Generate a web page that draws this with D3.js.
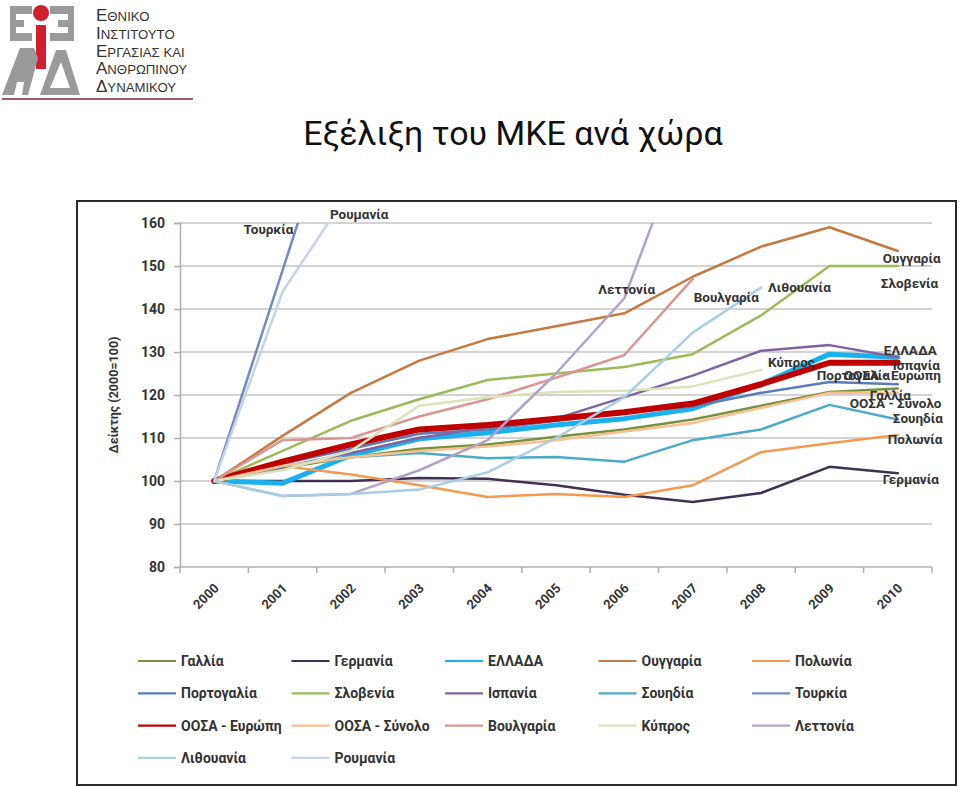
<!DOCTYPE html>
<html><head><meta charset="utf-8">
<script src="https://cdn.jsdelivr.net/npm/d3@7/dist/d3.min.js"></script>
<style>
body{margin:0;background:#fff;}
svg{display:block;}
text{font-family:Roboto,"Noto Sans",sans-serif;}
</style></head>
<body>
<svg id="c" width="960" height="786"></svg>
<script>
// ---------- DATA ----------
const years = ["2000","2001","2002","2003","2004","2005","2006","2007","2008","2009","2010"];
const yTicks = [80,90,100,110,120,130,140,150,160];

const gallia      = [100,103,105.5,107.5,108.5,110.3,112,114.3,117.5,120.7,121.5];
const germania    = [100,100,100,100.7,100.5,99,96.8,95.1,97.2,103.3,101.8];
const ellada      = [100,99.5,106,109.8,111.2,113,114.5,116.8,122.5,129.5,128.8];
const oungaria    = [100,110.5,120.5,128,133,136,139,147.5,154.5,159,153.5];
const polonia     = [100,103.5,101.5,99,96.3,97,96.3,99,106.7,108.8,110.7];
const portogalia  = [100,104,107.5,111,112,114,116,117.3,120.5,123,122.5];
const slovenia    = [100,107,114,119,123.5,125,126.5,129.5,138.5,150,150];
const ispania     = [100,103.2,106.5,110,112.5,114.5,119.5,124.5,130.3,131.6,128.8];
const souidia     = [100,103.5,105.5,106.5,105.3,105.6,104.5,109.5,112,117.7,114.3];
const tourkia     = [100,149,198,null,null,null,null,null,null,null,null];
const oosaEuropi  = [100,104.5,108.5,112,113,114.5,116,118,122.5,127.5,127.5];
const oosaSynolo  = [100,103.5,105.5,107,108,109.5,111.5,113.5,117,120.5,120.5];
const voulgaria   = [100,109.5,110,115,119,124,129.3,147,null,null,null];
const kypros      = [100,102.5,107,117.5,119.5,120.7,121,122,125.8,null,null];
const lettonia    = [100,96.5,97,102.5,109.5,125,142.5,185,null,null,null];
const lithouania  = [100,96.5,97,98,102,110,119.5,134.5,145,null,null];
const roumania    = [100,144,168,null,null,null,null,null,null,null,null];

const seriesNames = ["Γαλλία","Γερμανία","ΕΛΛΑΔΑ","Ουγγαρία","Πολωνία","Πορτογαλία","Σλοβενία","Ισπανία","Σουηδία","Τουρκία","ΟΟΣΑ - Ευρώπη","ΟΟΣΑ - Σύνολο","Βουλγαρία","Κύπρος","Λεττονία","Λιθουανία","Ρουμανία"];
const seriesValues = [gallia,germania,ellada,oungaria,polonia,portogalia,slovenia,ispania,souidia,tourkia,oosaEuropi,oosaSynolo,voulgaria,kypros,lettonia,lithouania,roumania];
const seriesColors = ["#77933C","#403152","#19B2EE","#C47A40","#F39A4E","#5A7DB8","#9BBB59","#8064A2","#4BACC6","#7889C2","#C00000","#FAC090","#D99694","#D7E4BD","#B3A2C7","#A9CDE3","#C4D3E6"];
const seriesWidths = [2.5,2.5,5,2.5,2.5,2.5,2.5,2.5,2.5,2.5,6,2.5,2.5,2.5,2.5,2.5,2.5];

// data labels: [series index, year index, dx, dy]
const labelPlacement = [
 [9,1,-39,-40],[16,2,-21,-8],[14,6,-26,-8],[12,7,1,19],[15,8,7,0],
 [3,10,-15,8],[6,10,-17,18],[13,8,7,-7],[2,10,-14,-6],[7,10,-5,9],
 [10,10,-54,13],[5,10,-81,-8],[0,10,-28,7],[11,10,-48,11],[8,10,-5,-1],
 [4,10,-10,5],[1,10,-15,7]
];

// ---------- DRAW ----------
const svg = d3.select("#c");

// logo
const logo = svg.append("g");
const gray = "#9a9a9a", red = "#d0202e";
[[10,6,22,8],[10,20,14,7],[10,33,22,8],[10,6,6,35],[50,6,24,8],[58,20,16,7],[50,33,24,8],[68,6,6,35]].forEach(r=>{
  logo.append("rect").attr("x",r[0]).attr("y",r[1]).attr("width",r[2]).attr("height",r[3]).attr("fill",gray);
});
logo.append("circle").attr("cx",41).attr("cy",13).attr("r",8).attr("fill",red);
logo.append("rect").attr("x",36).attr("y",25).attr("width",10).attr("height",44).attr("fill",red);
logo.append("path").attr("d","M2,95 L20,48 L34,48 L38,58 L28,95 L22,95 L24,82 L17,82 L14,95 Z").attr("fill",gray);
logo.append("path").attr("d","M40,95 L56,50 L66,50 L80,95 Z M50,88 L70,88 L61,62 Z").attr("fill",gray).attr("fill-rule","evenodd");
logo.append("line").attr("x1",2).attr("x2",193).attr("y1",99).attr("y2",99).attr("stroke","#a8566a").attr("stroke-width",2);
const logoLines = ["ΕΘΝΙΚΟ","ΙΝΣΤΙΤΟΥΤΟ","ΕΡΓΑΣΙΑΣ ΚΑΙ","ΑΝΘΡΩΠΙΝΟΥ","ΔΥΝΑΜΙΚΟΥ"];
logoLines.forEach((s,i)=>{
  const t = logo.append("text").attr("x",96).attr("y",21+i*17.8).attr("fill","#333").style("font-family","'Liberation Sans',Arial,sans-serif");
  t.append("tspan").attr("font-size",17).text(s[0]);
  t.append("tspan").attr("font-size",13.2).text(s.slice(1));
});

// title
svg.append("text").attr("x",513).attr("y",145).attr("text-anchor","middle")
  .attr("font-size",34).attr("fill","#111").text("Εξέλιξη του ΜΚΕ ανά χώρα");

// chart frame
svg.append("rect").attr("x",77).attr("y",201).attr("width",879).attr("height",584)
  .attr("fill","#fff").attr("stroke","#2a2a2a").attr("stroke-width",2);

const L=180, R=932, T=223, B=567;
const x = d3.scalePoint().domain(years).range([L,R]).padding(0.5);
const xb = d3.scaleBand().domain(years).range([L,R]);
const y = d3.scaleLinear().domain([80,160]).range([B,T]);

// gridlines
svg.append("g").selectAll("line").data(yTicks.filter(v=>v>80)).join("line")
  .attr("x1",L).attr("x2",R).attr("y1",d=>y(d)).attr("y2",d=>y(d))
  .attr("stroke","#c4c4c4").attr("stroke-width",1.5);

// y axis
const ya = svg.append("g").attr("transform",`translate(${L},0)`)
  .call(d3.axisLeft(y).tickValues(yTicks).tickSize(6).tickPadding(9));
ya.select(".domain").attr("stroke","#b0b0b0").attr("stroke-width",1.5);
ya.selectAll(".tick line").attr("stroke","#b0b0b0").attr("stroke-width",1.5);
ya.selectAll("text").attr("font-size",14).attr("font-weight","bold").attr("fill","#333")
  .style("font-family","Roboto,sans-serif");

// x axis
const xa = svg.append("g").attr("transform",`translate(0,${B})`)
  .call(d3.axisBottom(x).tickSize(0).tickPadding(0));
xa.select(".domain").remove();
svg.append("line").attr("x1",L).attr("x2",R).attr("y1",B).attr("y2",B).attr("stroke","#b0b0b0").attr("stroke-width",1.5);
svg.append("g").selectAll("line").data(years.concat(["end"])).join("line")
  .attr("x1",(d,i)=> L + i*xb.step()).attr("x2",(d,i)=> L + i*xb.step())
  .attr("y1",B).attr("y2",B+6).attr("stroke","#b0b0b0").attr("stroke-width",1.5);
xa.selectAll(".tick text").attr("font-size",13).attr("font-weight","bold").attr("fill","#333")
  .style("font-family","Roboto,sans-serif")
  .attr("text-anchor","end").attr("dy",0).attr("y",0)
  .attr("transform","translate(5,22) rotate(-45)");

// y label
svg.append("text").attr("transform","translate(118,395) rotate(-90)").attr("text-anchor","middle")
  .attr("font-size",12.5).attr("font-weight","bold").attr("fill","#333").text("Δείκτης (2000=100)");

// clip
svg.append("clipPath").attr("id","clp").append("rect").attr("x",L).attr("y",T).attr("width",R-L+20).attr("height",B-T);

const line = d3.line().defined(d=>d.v!=null).x(d=>x(d.yr)).y(d=>y(d.v));
const lg = svg.append("g").attr("clip-path","url(#clp)");
seriesNames.forEach((n,i)=>{
  const pts = years.map((yr,j)=>({yr, v: seriesValues[i][j]}));
  lg.append("path").datum(pts).attr("d",line).attr("fill","none")
    .attr("stroke",seriesColors[i]).attr("stroke-width",seriesWidths[i])
    .attr("stroke-linejoin","round").attr("stroke-linecap","round");
});

// data labels
labelPlacement.forEach(([si,yi,dx,dy])=>{
  let v = seriesValues[si][yi];
  if (v==null || v>160) v = 160;
  svg.append("text").attr("x",x(years[yi])+dx).attr("y",y(v)+dy+4)
    .attr("font-size",13.5).attr("font-weight","bold").attr("fill","#333").text(seriesNames[si]);
});

// legend
const legCols = 5, colW = 153.5, rowH = 32.3, lx0 = 138, ly0 = 661;
seriesNames.forEach((n,i)=>{
  const cx = lx0 + (i%legCols)*colW, cy = ly0 + Math.floor(i/legCols)*rowH;
  svg.append("line").attr("x1",cx).attr("x2",cx+38).attr("y1",cy).attr("y2",cy)
    .attr("stroke",seriesColors[i]).attr("stroke-width",2.2);
  svg.append("text").attr("x",cx+43).attr("y",cy+5).attr("font-size",14).attr("font-weight","bold")
    .attr("fill","#333").text(n);
});
</script>
</body></html>
